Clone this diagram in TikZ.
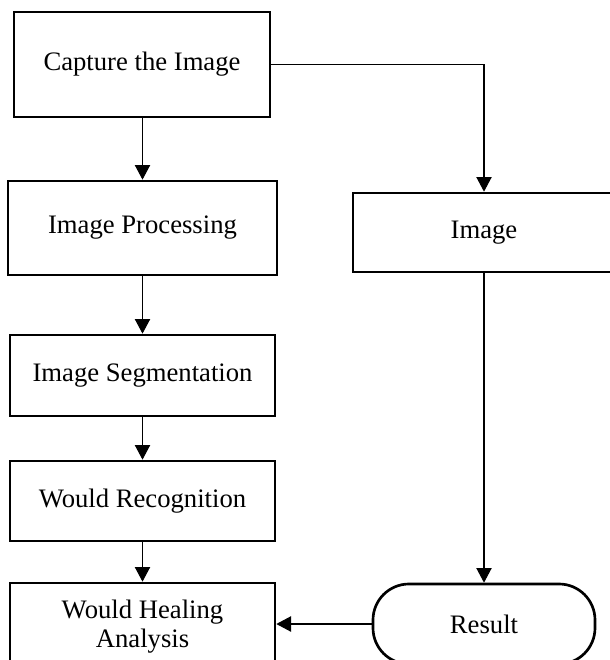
\documentclass[tikz,border=0pt]{standalone}
\usepackage{fontspec}
\setmainfont{Liberation Serif}
\usetikzlibrary{arrows.meta}
\begin{document}
\begin{tikzpicture}[x=0.75pt,y=-0.75pt,
  box/.style={draw,line width=2pt,align=center,inner sep=0pt,
    font=\fontsize{20pt}{21.75pt}\selectfont},
  arr/.style={line width=0.8pt,-{Triangle[length=11pt,width=11.5pt]}},
  ln/.style={line width=0.8pt}]
\clip (0,0) rectangle (610,660);
\node[box,minimum width=192pt,minimum height=78.75pt] (cap) at (142,64.5) {Capture the Image};
\node[box,minimum width=201.75pt,minimum height=70.5pt] (proc) at (142.5,228) {Image Processing};
\node[box,minimum width=198.75pt,minimum height=60.75pt] (seg) at (142.5,375.5) {Image Segmentation};
\node[box,minimum width=198.75pt,minimum height=60pt] (rec) at (142.5,501) {Would Recognition};
\node[box,minimum width=198.75pt,minimum height=65.25pt] (heal) at (142.5,626.5) {Would Healing\\Analysis};
\node[box,minimum width=196.5pt,minimum height=59.25pt] (img) at (484,232.5) {Image};
\node[box,rounded corners=27pt,minimum width=166.5pt,minimum height=60pt] (res) at (484,624) {Result};
\draw[arr] (cap.south -| proc.north) -- (proc.north);
\draw[arr] (proc) -- (seg);
\draw[arr] (seg) -- (rec);
\draw[arr] (rec) -- (heal);
\draw[arr] (cap.east) -| (img.north);
\draw[arr] (img) -- (res);
\draw[arr] (res.west) -- (res.west -| heal.east);
\end{tikzpicture}
\end{document}
